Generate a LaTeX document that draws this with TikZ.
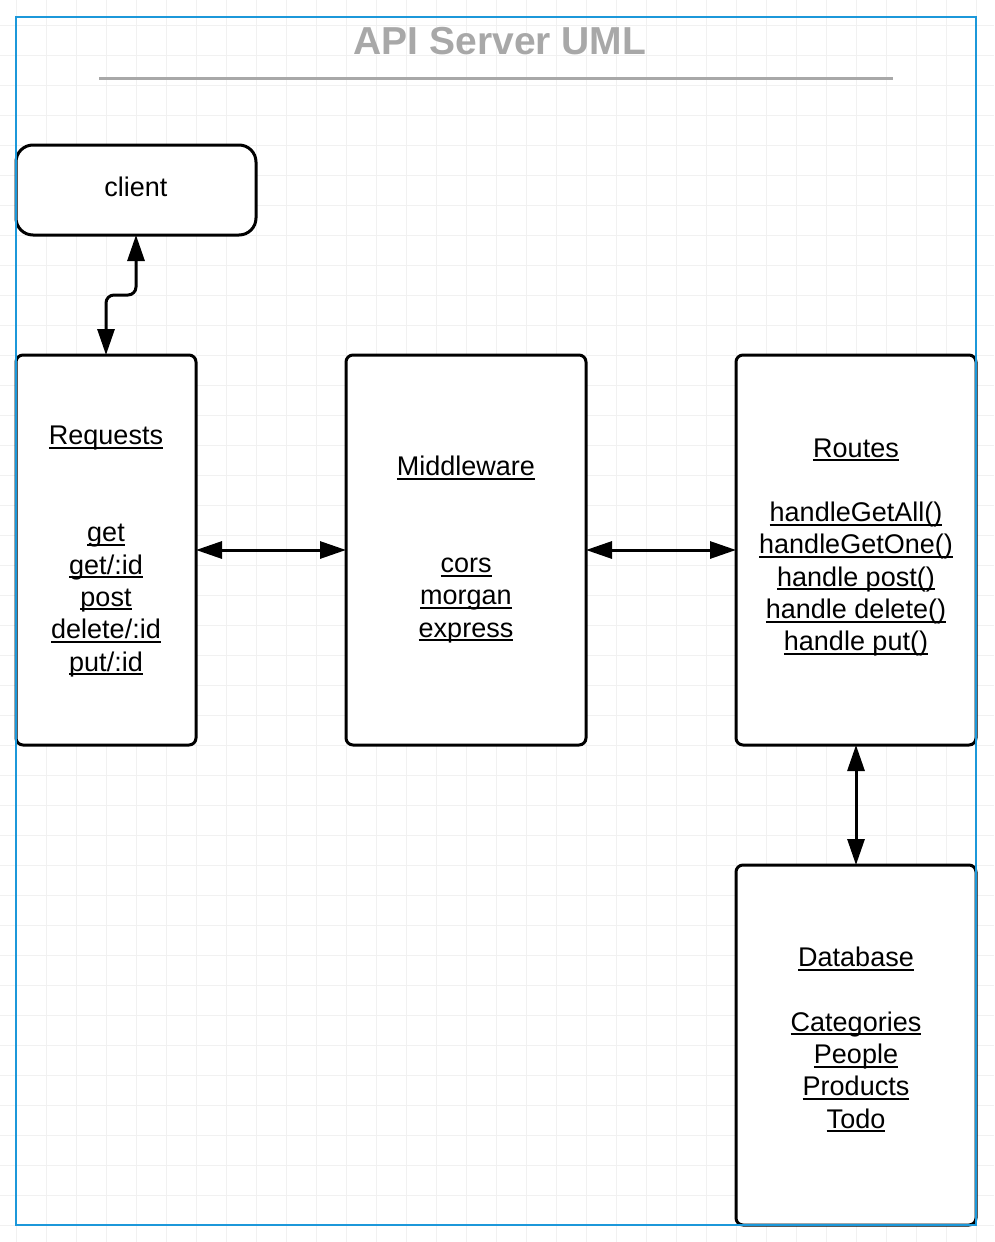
\documentclass[tikz,border=0pt]{standalone}
\usepackage{fontspec}
\setmainfont{Liberation Sans}
\usetikzlibrary{arrows.meta}

\definecolor{gridgray}{RGB}{241,241,241}
\definecolor{titlegray}{RGB}{168,168,168}
\definecolor{frameblue}{RGB}{28,152,218}

% underlined line of text, rule sits just below the baseline
\newcommand\ulc[1]{\setbox0=\hbox{#1}\rlap{\rule[-4pt]{\wd0}{2pt}}\box0\strut}

\tikzset{
  gridline/.style={draw=gridgray, line width=1pt},
  box/.style={draw=black, fill=white, line width=3pt, rounded corners=7pt,
              inner sep=0pt, outer sep=0pt},
  roundbox/.style={box, rounded corners=17pt},
  body/.style={font={\fontsize{27}{32.3}\selectfont}, align=center, inner sep=0pt},
  conn/.style={line width=3pt, line join=round,
               {Triangle[length=26pt,width=17pt]}-{Triangle[length=26pt,width=17pt]}},
  titletext/.style={font={\fontsize{39}{44}\selectfont\bfseries}, text=titlegray},
  titlerule/.style={draw=titlegray, line width=3pt},
  frame/.style={draw=frameblue, line width=2pt}
}

\begin{document}
\begin{tikzpicture}[x=1pt,y=-1pt]
  \useasboundingbox (0,0) rectangle (994,1242);
  \fill[white] (0,0) rectangle (994,1242);

  % background grid
  \foreach \k in {0,...,32} \draw[gridline] (16.7+30*\k,0) -- (16.7+30*\k,1242);
  \foreach \k in {0,...,40} \draw[gridline] (0,25+30*\k) -- (994,25+30*\k);

  % title
  \node[titletext] (title) at (500,41) {API Server UML};
  \draw[titlerule] (99,78) -- (893,78);

  % boxes
  \node[roundbox, minimum width=240pt, minimum height=90pt, text depth=6pt,
        font={\fontsize{27}{32.3}\selectfont}] (client) at (136,190) {client};
  \node[box, minimum width=180pt, minimum height=390pt] (req) at (106,550) {};
  \node[box, minimum width=240pt, minimum height=390pt] (mid) at (466,550) {};
  \node[box, minimum width=240pt, minimum height=390pt] (routes) at (856,550) {};
  \node[box, minimum width=240pt, minimum height=360pt] (db) at (856,1045) {};

  % box contents
  \node[body] (reqtext) at (106,551.5) {\ulc{Requests}\\\strut\\\strut\\\ulc{get}\\\ulc{get/:id}\\\ulc{post}\\\ulc{delete/:id}\\\ulc{put/:id}};
  \node[body] (midtext) at (466,550) {\ulc{Middleware}\\\strut\\\strut\\\ulc{cors}\\\ulc{morgan}\\\ulc{express}};
  \node[body] (routestext) at (856,547.5) {\ulc{Routes}\\\strut\\\ulc{handleGetAll()}\\\ulc{handleGetOne()}\\\ulc{handle post()}\\\ulc{handle delete()}\\\ulc{handle put()}};
  \node[body] (dbtext) at (856,1041) {\ulc{Database}\\\strut\\\ulc{Categories}\\\ulc{People}\\\ulc{Products}\\\ulc{Todo}};

  % connectors
  \draw[conn, rounded corners=8pt] (req.north) -- ++(0,-60) -| (client.south);
  \draw[conn] (req.east) -- (mid.west);
  \draw[conn] (mid.east) -- (routes.west);
  \draw[conn] (routes.south) -- (db.north);

  % outer frame
  \draw[frame] (16,17) rectangle (976,1225);
\end{tikzpicture}
\end{document}
